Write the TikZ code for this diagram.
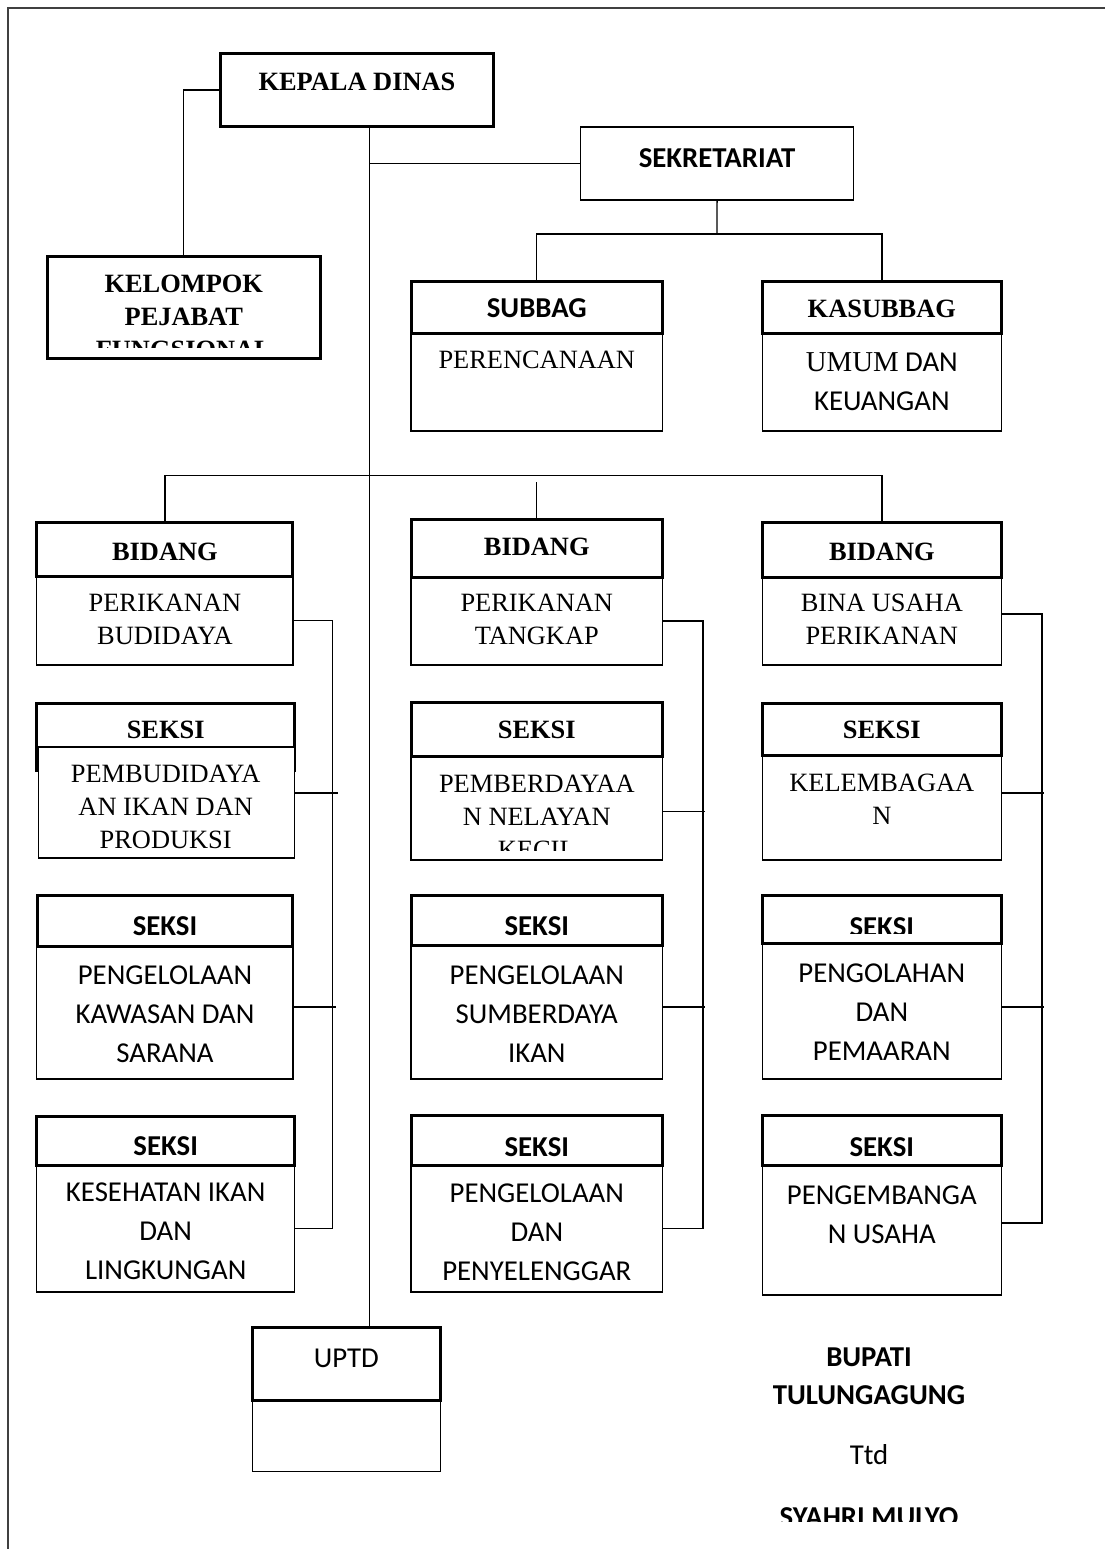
\documentclass[tikz,border=0pt]{standalone}
\usepackage{fontspec}
\setmainfont{Liberation Serif}
\newfontfamily\carlito{Carlito}
\usetikzlibrary{fit}

\tikzset{
  box/.style={draw, line width=0.65pt, inner sep=0pt, fill=white},
  hdr/.style={draw, line width=1.5pt, inner sep=0pt},
  link/.style={line width=0.65pt},
  tnr/.style={inner sep=0pt, anchor=base, align=center,
    font=\fontsize{13.2}{16.4}\selectfont},
  tnrb/.style={tnr, font=\fontsize{13.2}{16.4}\selectfont\bfseries},
  cal/.style={inner sep=0pt, anchor=base, align=center,
    font=\carlito\fontsize{14.4}{19.5}\selectfont},
  calb/.style={cal, font=\carlito\fontsize{14.4}{19.5}\selectfont\bfseries},
}

\begin{document}
\begin{tikzpicture}[x=0.5pt, y=-0.5pt]
  \useasboundingbox (0,0) rectangle (1105,1549);
  % page frame
  \draw[line width=0.8pt, black!75] (7.7,1549) -- (7.7,7.7) -- (1105,7.7);

  % kepala dinas, kelompok
  \node[hdr, fit={(220.3,53)(493.9,126.7)}] (kd) {};
  \node[tnrb] (kdt) at (357,90) {KEPALA DINAS};
  \node[hdr, fit={(47.4,256)(320.2,358)}] (kpf) {};
  \begin{scope}
    \clip (47.4,256) rectangle (320.2,347);
    \node[tnrb] (kpft) at (183.8,358) {KELOMPOK\\PEJABAT\\FUNGSIONAL};
  \end{scope}
  \draw[link] (kd.west) -| (kpf.north);

  % sekretariat
  \node[box, fit={(580.8,127)(853.4,200)}] (sek) {};
  \node[calb] (sekt) at (717,167) {SEKRETARIAT};
  \node[box, fit={(411,333)(662.6,431)}] (subb) {};
  \node[hdr, fit={(411,281)(662.6,333)}] (subh) {};
  \node[calb] (subht) at (536.8,317) {SUBBAG};
  \node[tnr] (subbt) at (536.8,368) {PERENCANAAN};
  \node[box, fit={(762.4,333)(1001.3,431)}] (kasb) {};
  \node[hdr, fit={(762.4,281)(1001.3,333)}] (kash) {};
  \node[tnrb] (kasht) at (881.8,317) {KASUBBAG};
  \node[cal] (kasbt) at (881.8,410) {{\rmfamily UMUM} DAN\\KEUANGAN};
  \coordinate (sj) at (717,234);
  \draw[link] (sek.south) -- (sj);
  \draw[link] (subh.north) |- (sj) -| (kash.north);

  % bidang
  \node[box, fit={(36.8,576)(292.9,665)}] (b1b) {};
  \node[hdr, fit={(36.8,522)(292.9,576)}] (b1h) {};
  \node[tnrb] (b1ht) at (164.9,560) {BIDANG};
  \node[tnr] (b1bt) at (164.9,644) {PERIKANAN\\BUDIDAYA};
  \node[box, fit={(411,577)(662.6,665)}] (b2b) {};
  \node[hdr, fit={(411,519)(662.6,577)}] (b2h) {};
  \node[tnrb] (b2ht) at (536.8,555) {BIDANG};
  \node[tnr] (b2bt) at (536.8,644) {PERIKANAN\\TANGKAP};
  \node[box, fit={(762.4,577)(1001.3,665)}] (b3b) {};
  \node[hdr, fit={(762.4,522)(1001.3,577)}] (b3h) {};
  \node[tnrb] (b3ht) at (881.8,560) {BIDANG};
  \node[tnr] (b3bt) at (881.8,644) {BINA USAHA\\PERIKANAN};
  \coordinate (bj) at (369.3,475.7);
  \coordinate (b2top) at (536.8,482);
  \draw[link] (b1h.north) |- (bj) -| (b3h.north);
  \draw[link] (b2top) -- (b2h.north);

  % seksi, first row
  \node[hdr, fit={(36.8,703)(294.6,770)}] (s11h) {};
  \node[box, fit={(38.6,747)(294.6,858)}] (s11b) {};
  \node[tnrb] (s11ht) at (165.7,738) {SEKSI};
  \begin{scope}
    \clip (38.6,747) rectangle (294.6,850);
    \node[tnr] (s11bt) at (165.7,848) {PEMBUDIDAYA\\AN IKAN DAN\\PRODUKSI};
  \end{scope}
  \node[box, fit={(411,756)(662.6,860)}] (s21b) {};
  \node[hdr, fit={(411,702)(662.6,756)}] (s21h) {};
  \node[tnrb] (s21ht) at (536.8,738) {SEKSI};
  \begin{scope}
    \clip (411,756) rectangle (662.6,850);
    \node[tnr] (s21bt) at (536.8,858) {PEMBERDAYAA\\N NELAYAN\\KECIL};
  \end{scope}
  \node[box, fit={(762.4,755)(1001.3,860)}] (s31b) {};
  \node[hdr, fit={(762.4,703)(1001.3,755)}] (s31h) {};
  \node[tnrb] (s31ht) at (881.8,738) {SEKSI};
  \node[tnr] (s31bt) at (881.8,824) {KELEMBAGAA\\N};

  % seksi, second row
  \node[box, fit={(36.8,946)(292.9,1079)}] (s12b) {};
  \node[hdr, fit={(37.9,895)(292.9,946)}] (s12h) {};
  \node[calb] (s12ht) at (165,935) {SEKSI};
  \node[cal] (s12bt) at (165,1062) {PENGELOLAAN\\KAWASAN DAN\\SARANA};
  \node[box, fit={(411,945)(662.6,1079)}] (s22b) {};
  \node[hdr, fit={(411,895)(662.6,945)}] (s22h) {};
  \node[calb] (s22ht) at (536.8,935) {SEKSI};
  \node[cal] (s22bt) at (536.8,1062) {PENGELOLAAN\\SUMBERDAYA\\IKAN};
  \node[box, fit={(762.4,943)(1001.3,1079)}] (s32b) {};
  \node[hdr, fit={(762.4,895)(1001.3,943)}] (s32h) {};
  \begin{scope}
    \clip (762.4,895) rectangle (1001.3,933);
    \node[calb] (s32ht) at (881.8,936) {SEKSI};
  \end{scope}
  \node[cal] (s32bt) at (881.8,1060) {PENGOLAHAN\\DAN\\PEMAARAN};

  % seksi, third row
  \node[box, fit={(36.8,1165)(294.6,1292)}] (s13b) {};
  \node[hdr, fit={(36.8,1116)(294.6,1165)}] (s13h) {};
  \node[calb] (s13ht) at (165.7,1155) {SEKSI};
  \node[cal] (s13bt) at (165.7,1279) {KESEHATAN IKAN\\DAN\\LINGKUNGAN};
  \node[box, fit={(411,1165)(662.6,1292)}] (s23b) {};
  \node[hdr, fit={(411,1115)(662.6,1165)}] (s23h) {};
  \node[calb] (s23ht) at (536.8,1156) {SEKSI};
  \node[cal] (s23bt) at (536.8,1280) {PENGELOLAAN\\DAN\\PENYELENGGAR};
  \node[box, fit={(762.4,1165)(1001.3,1295)}] (s33b) {};
  \node[hdr, fit={(762.4,1115)(1001.3,1165)}] (s33h) {};
  \node[calb] (s33ht) at (881.8,1156) {SEKSI};
  \node[cal] (s33bt) at (881.8,1243) {PENGEMBANGA\\N USAHA};

  % side rails
  \coordinate (r1) at (332.5,0);
  \coordinate (r2) at (703,0);
  \coordinate (r3) at (1042,0);
  \draw[link] (b1b.east) -| (r1 |- s13b.east) -- (s13b.east);
  \draw[link] (s11b.east |- 0,793) -- +(43,0);
  \draw[link] (s12b.east |- 0,1007) -- +(42,0);
  \draw[link] (b2b.east) -| (r2 |- s23b.east) -- (s23b.east);
  \draw[link] (s21b.east |- 0,811.7) -- +(42,0);
  \draw[link] (s22b.east |- 0,1007) -- +(42,0);
  \draw[link] (b3b.east |- 0,614) -| (r3 |- 0,1223) -- (s33b.east |- 0,1223);
  \draw[link] (s31b.east |- 0,793) -- +(42,0);
  \draw[link] (s32b.east |- 0,1007) -- +(42,0);

  % uptd
  \node[box, fit={(252.4,1400)(440.3,1471.7)}] (uptdb) {};
  \node[hdr, fit={(252.4,1327.7)(440.3,1400)}] (uptdh) {};
  \node[cal] (uptdt) at (346.3,1367) {UPTD};

  % spine and secretariat link
  \coordinate (spine) at (369.3,0);
  \draw[link] (kd.south -| spine) -- (uptdh.north -| spine);
  \draw[link] (sek.west) -- (sek.west -| spine);

  % signature
  \node[calb] (bup) at (869,1366) {BUPATI};
  \node[calb] (tla) at (869,1404) {TULUNGAGUNG};
  \node[cal] (ttd) at (869,1464) {Ttd};
  \begin{scope}
    \clip (700,1480) rectangle (1050,1521.7);
    \node[calb] (nama) at (869,1526) {SYAHRI MULYO};
  \end{scope}
\end{tikzpicture}
\end{document}
